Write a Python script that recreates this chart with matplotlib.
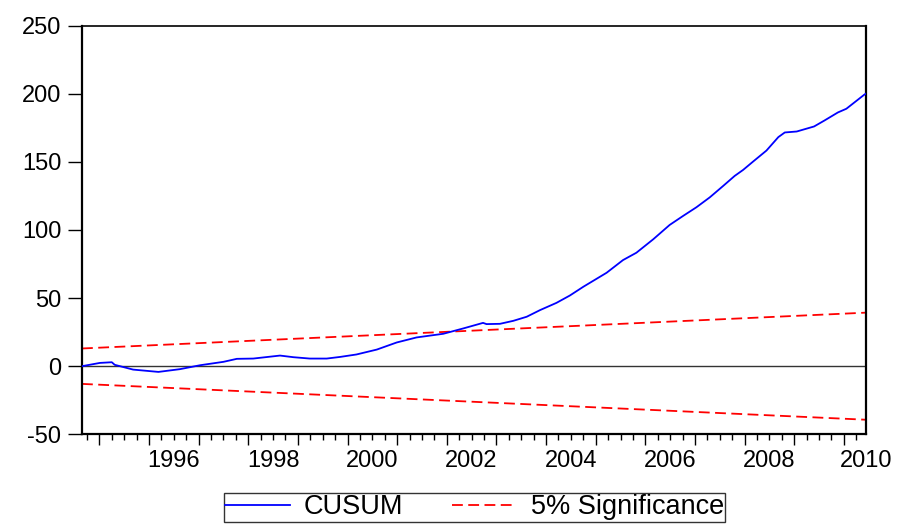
import numpy as np
import matplotlib.pyplot as plt
import matplotlib.transforms as mtransforms

plt.rcParams['font.family'] = ['Liberation Sans', 'DejaVu Sans']
plt.rcParams['axes.unicode_minus'] = False

# CUSUM path (decimal year, value)
cusum_year = [1994.65, 1995.01, 1995.25, 1995.31, 1995.68, 1996.19, 1996.62, 1997.03,
              1997.50, 1997.77, 1998.10, 1998.64, 1998.91, 1999.24, 1999.58, 1999.85,
              2000.18, 2000.59, 2000.99, 2001.39, 2001.93, 2002.33, 2002.73, 2002.80,
              2003.07, 2003.34, 2003.61, 2003.88, 2004.21, 2004.48, 2004.75, 2005.22,
              2005.55, 2005.82, 2006.16, 2006.49, 2006.76, 2007.03, 2007.30, 2007.57,
              2007.80, 2007.97, 2008.17, 2008.44, 2008.68, 2008.81, 2009.05, 2009.40,
              2009.61, 2009.88, 2010.05, 2010.41, 2010.44]
cusum = [0.0, 2.4, 2.9, 1.0, -2.5, -4.2, -2.2, 0.7,
         3.2, 5.4, 5.6, 7.8, 6.6, 5.6, 5.6, 6.8,
         8.6, 12.2, 17.4, 21.1, 23.8, 27.7, 31.8, 30.9,
         31.1, 33.3, 36.3, 41.2, 46.5, 51.9, 58.3, 68.6,
         77.9, 83.3, 93.2, 103.7, 110.3, 116.7, 124.0, 132.4,
         139.7, 144.1, 150.2, 158.3, 168.2, 171.6, 172.3, 176.0,
         180.4, 186.3, 189.0, 199.3, 200.0]

# 5% significance bounds (straight lines between the end points)
band_year = [1994.65, 2010.44]
band_upper = [13.0, 39.3]
band_lower = [-13.0, -39.3]

year_labels = [1996, 1998, 2000, 2002, 2004, 2006, 2008, 2010]

fig = plt.figure(figsize=(9.03, 5.24), dpi=100)
ax = fig.add_axes([0.0908, 0.1712, 0.8679, 0.7798])

ax.axhline(0, color='#333333', lw=1.0, zorder=1)
ax.plot(cusum_year, cusum, color='#0000ff', lw=1.3, label='CUSUM', zorder=3)
ax.plot(band_year, band_upper, color='#ff0000', lw=1.3, dashes=(6, 3),
        label='5% Significance', zorder=2)
ax.plot(band_year, band_lower, color='#ff0000', lw=1.3, dashes=(6, 3), zorder=2)

ax.set_xlim(band_year[0], band_year[1])
ax.set_ylim(-50, 250)
ax.set_yticks(np.arange(-50, 251, 50))
ax.tick_params(axis='y', direction='out', length=10, width=1.0, labelsize=17, pad=5)

# year ticks (long) and quarter ticks (short), labels in the middle of the years
ax.set_xticks(np.arange(1995, 2011))
ax.set_xticks(np.arange(1994.75, 2010.5, 0.25), minor=True)
ax.tick_params(axis='x', which='major', direction='out', length=8, width=1.0,
               labelbottom=False)
ax.tick_params(axis='x', which='minor', direction='out', length=4, width=1.0)
trans = mtransforms.blended_transform_factory(ax.transData, ax.transAxes)
for yr in year_labels:
    ax.text(min(yr + 0.5, band_year[1]), -0.038, str(yr), transform=trans,
            ha='center', va='top', fontsize=17, clip_on=False)

for side in ['left', 'right', 'bottom']:
    ax.spines[side].set_linewidth(1.6)
ax.spines['top'].set_linewidth(1.2)

leg = fig.legend(loc='upper center', bbox_to_anchor=(0.5255, 0.0592), ncol=2,
                 fontsize=19.5, frameon=True, fancybox=False, edgecolor='black',
                 handlelength=2.4, handletextpad=0.5, columnspacing=1.8,
                 borderpad=0.05, borderaxespad=0)
leg.get_frame().set_linewidth(1.0)

fig.savefig('out.png', dpi=100)
